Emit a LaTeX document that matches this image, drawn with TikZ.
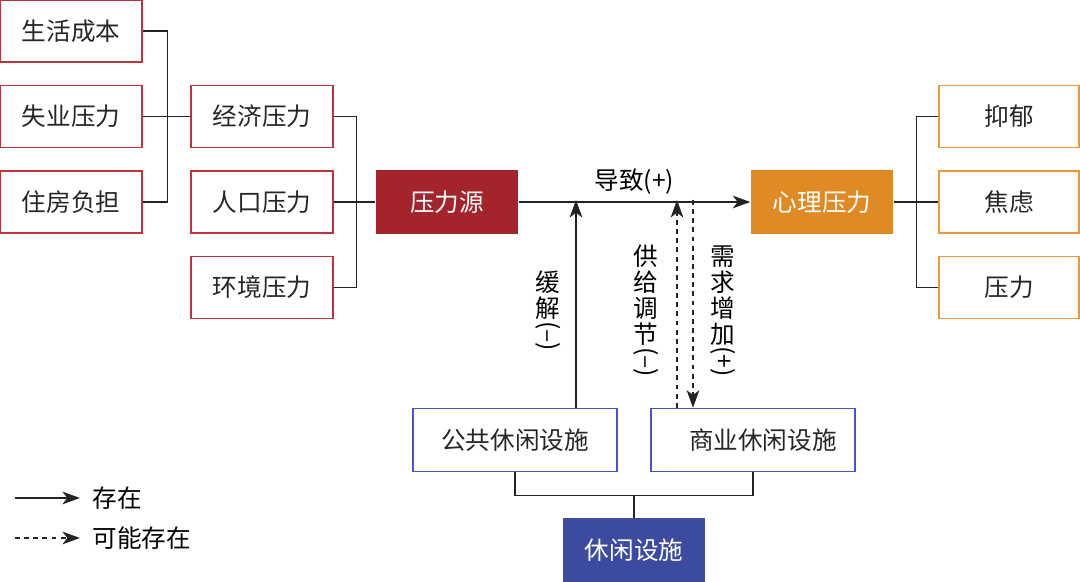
\documentclass[tikz,border=0pt]{standalone}
\usepackage{fontspec}
\setmainfont{Noto Sans CJK SC}
\usetikzlibrary{arrows.meta}

\definecolor{srcred}{RGB}{163,36,42}
\definecolor{boxred}{RGB}{188,52,60}
\definecolor{psyorange}{RGB}{224,138,37}
\definecolor{boxorange}{RGB}{234,152,62}
\definecolor{leisblue}{RGB}{60,75,160}
\definecolor{boxblue}{RGB}{72,82,192}
\definecolor{linegray}{RGB}{35,35,35}

\newcommand{\vparen}[1]{\rotatebox[origin=c]{-90}{(#1)}}

\tikzset{
  redbox/.style={rectangle, draw=boxred, line width=0.9pt, minimum width=3.55cm, minimum height=1.55cm, inner sep=0pt, text=black!85},
  orangebox/.style={redbox, draw=boxorange, minimum width=3.5cm},
  bluebox/.style={redbox, draw=boxblue, minimum width=5.1cm, minimum height=1.58cm},
  filledbox/.style={rectangle, minimum width=3.55cm, minimum height=1.58cm, inner sep=0pt, text=white},
  vlabel/.style={align=center, inner sep=0pt, font=\fontsize{17.5}{18.5}\selectfont},
  arr/.style={-{Stealth[length=12.5pt,width=9pt,inset=3.5pt]}},
  dash2/.style={dash pattern=on 3.5pt off 3pt}
}

\begin{document}
\begin{tikzpicture}[x=0.025cm, y=-0.025cm, font=\fontsize{17.5}{20}\selectfont, line width=0.9pt, draw=linegray]
\useasboundingbox (0,0) rectangle (1080,582);

% sources of stress
\node[redbox](cost) at (71,31) {生活成本};
\node[redbox](unemp) at (71,116.5) {失业压力};
\node[redbox](house) at (71,202) {住房负担};

\node[redbox](econ) at (262,116.5) {经济压力};
\node[redbox](pop) at (262,202) {人口压力};
\node[redbox](env) at (262,287.5) {环境压力};

\node[filledbox, fill=srcred](src) at (447,202) {压力源};

\draw (cost.east) -- ++(25,0) |- (house.east);
\draw (unemp.east) -- (econ.west);
\draw (econ.east) -- ++(23,0) |- (env.east);
\draw (pop.east) -- (src.west);

% psychological stress
\node[filledbox, fill=psyorange](psy) at (822,202) {心理压力};
\node[orangebox](dep) at (1009,116.5) {抑郁};
\node[orangebox](anx) at (1009,202) {焦虑};
\node[orangebox](str) at (1009,287.5) {压力};

\draw[arr] (src.east) -- node[midway, above=5pt, inner sep=0pt](cause){导致(+)} (psy.west);
\draw (psy.east) -- (anx.west);
\draw (dep.west) -- ++(-22,0) |- (str.west);

% leisure facilities
\node[bluebox](pub) at (515,440) {公共休闲设施};
\node[bluebox](com) at (753,440) {\hspace{14pt}商业休闲设施};
\node[filledbox, fill=leisblue](leis) at (634,550) {休闲设施};

\draw (pub.south) -- ++(0,23) -| (com.south);
\draw (leis.north) -- ++(0,-23);

\coordinate (mitig) at (576,200);
\coordinate (supply) at (677,200);
\coordinate (demand) at (693,200);
\draw[arr] (mitig |- pub.north) -- (mitig);
\draw[arr, dash2] (supply |- com.north) -- (supply);
\draw[arr, dash2] (demand) -- (demand |- com.north);

\node[vlabel](mitlab) at (548,311) {缓\\解\\\vparen{–}};
\node[vlabel](suplab) at (646,311) {供\\给\\调\\节\\\vparen{–}};
\node[vlabel](demlab) at (723,311) {需\\求\\增\\加\\\vparen{+}};

% legend
\coordinate (leg1a) at (15,498);
\coordinate (leg1b) at (80,498);
\coordinate (leg2a) at (15,538);
\coordinate (leg2b) at (80,538);
\draw[arr] (leg1a) -- (leg1b);
\draw[arr, dash2] (leg2a) -- (leg2b);
\node[anchor=west, inner sep=0pt](leg1) at (92,498) {存在};
\node[anchor=west, inner sep=0pt](leg2) at (92,538) {可能存在};
\end{tikzpicture}
\end{document}
